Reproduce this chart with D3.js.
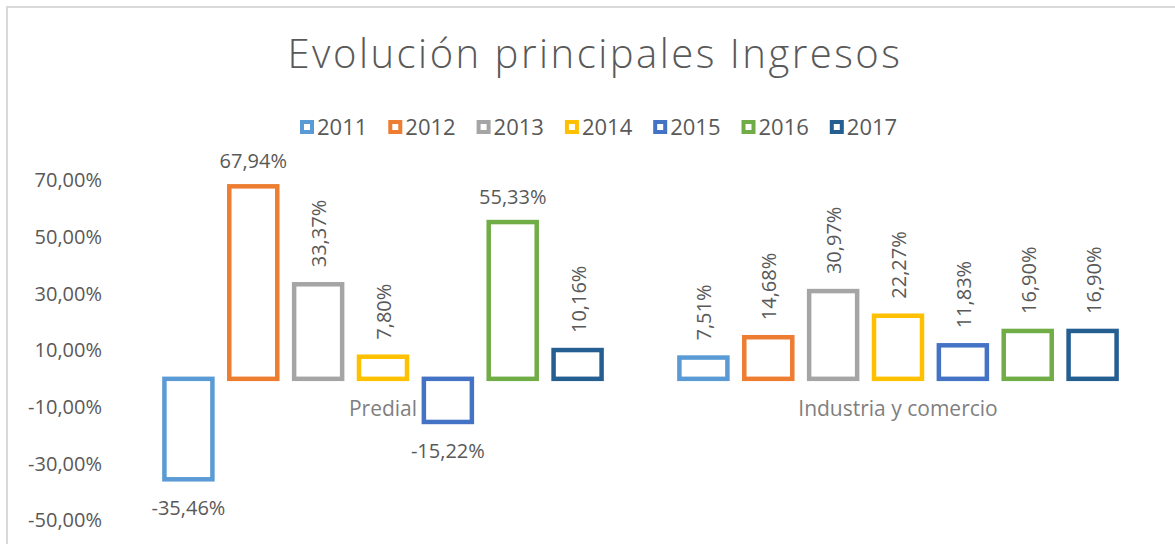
<!DOCTYPE html>
<html>
<head>
<meta charset="utf-8">
<script src="https://cdn.jsdelivr.net/npm/d3@7"></script>
<style>
  body { margin: 0; background: #fff; }
  text { font-family: "Open Sans", sans-serif; }
</style>
</head>
<body>
<svg width="1175" height="544"></svg>
<script>
var categories = ["Predial", "Industria y comercio"];
var years = ["2011", "2012", "2013", "2014", "2015", "2016", "2017"];
var predial = [-0.3546, 0.6794, 0.3337, 0.0780, -0.1522, 0.5533, 0.1016];
var industria = [0.0751, 0.1468, 0.3097, 0.2227, 0.1183, 0.1690, 0.1690];
var yTicks = [-0.5, -0.3, -0.1, 0.1, 0.3, 0.5, 0.7];

var values = {"Predial": predial, "Industria y comercio": industria};

var svg = d3.select("svg"),
  width = +svg.attr("width"),
  height = +svg.attr("height");

var locale = d3.formatLocale({decimal: ",", thousands: ".", grouping: [3], currency: ["", ""], minus: "-"});
var pct = locale.format(".2%");

var color = d3.scaleOrdinal()
  .domain(years)
  .range(["#5b9bd5", "#ed7d31", "#a5a5a5", "#ffc000", "#4472c4", "#70ad47", "#255e91"]);

// outer border of the chart area
svg.append("rect")
  .attr("x", 7).attr("y", 7)
  .attr("width", width).attr("height", height)
  .attr("fill", "none")
  .attr("stroke", "#d9d9d9")
  .attr("stroke-width", 2);

svg.append("text")
  .attr("x", 595)
  .attr("y", 68)
  .attr("text-anchor", "middle")
  .attr("fill", "#595959")
  .style("font-size", "40px")
  .style("font-weight", 300)
  .style("letter-spacing", "2.5px")
  .text("Evolución principales Ingresos");

// legend
var legend = svg.append("g")
  .selectAll("g")
  .data(years)
  .enter().append("g")
  .attr("transform", function(d, i) {
    return "translate(" + (302 + i * 88.3) + ",127)";
  });

legend.append("rect")
  .attr("x", 0).attr("y", -5)
  .attr("width", 10).attr("height", 10)
  .attr("fill", "#fff")
  .attr("stroke", function(d) { return color(d); })
  .attr("stroke-width", 4);

legend.append("text")
  .attr("x", 15)
  .attr("y", 8)
  .attr("fill", "#595959")
  .style("font-size", "22px")
  .text(function(d) { return d; });

var x0 = d3.scaleBand()
  .domain(categories)
  .range([125.5, 1155.5]);

var x1 = d3.scaleBand()
  .domain(years)
  .range([0, x0.bandwidth()])
  .paddingInner(0.26)
  .paddingOuter(0.6);

var y = d3.scaleLinear()
  .domain([-0.5, 0.7])
  .range([520.5, 180.5]);

var yAxis = svg.append("g")
  .attr("transform", "translate(108,0)")
  .call(d3.axisLeft(y).tickValues(yTicks).tickFormat(pct).tickSize(0).tickPadding(6));

yAxis.select(".domain").remove();
yAxis.selectAll("text")
  .attr("fill", "#595959")
  .style("font-family", "'Open Sans', sans-serif")
  .style("font-size", "20px");

var group = svg.append("g")
  .selectAll("g")
  .data(categories)
  .enter().append("g")
  .attr("transform", function(d) { return "translate(" + x0(d) + ",0)"; });

var bars = group.selectAll("g")
  .data(function(c) {
    return years.map(function(yr, i) { return {cat: c, year: yr, value: values[c][i]}; });
  })
  .enter().append("g");

bars.append("rect")
  .attr("x", function(d) { return x1(d.year); })
  .attr("y", function(d) { return y(Math.max(0, d.value)); })
  .attr("width", x1.bandwidth())
  .attr("height", function(d) { return Math.abs(y(d.value) - y(0)); })
  .attr("fill", "#fff")
  .attr("stroke", function(d) { return color(d.year); })
  .attr("stroke-width", 4.5);

// data labels: negatives and tall bars horizontal, the rest rotated
bars.append("text")
  .attr("fill", "#595959")
  .style("font-size", "20px")
  .attr("text-anchor", function(d) {
    return (d.value < 0 || d.value > 0.5) ? "middle" : "start";
  })
  .attr("dy", function(d) {
    return (d.value < 0 || d.value > 0.5) ? 0 : "0.35em";
  })
  .attr("transform", function(d) {
    var cx = x1(d.year) + x1.bandwidth() / 2;
    if (d.value < 0) return "translate(" + cx + "," + (y(d.value) + 36) + ")";
    if (d.value > 0.5) return "translate(" + cx + "," + (y(d.value) - 18) + ")";
    return "translate(" + (cx + 1) + "," + (y(d.value) - 17) + ") rotate(-90)";
  })
  .text(function(d) { return pct(d.value); });

group.append("text")
  .attr("x", x0.bandwidth() / 2)
  .attr("y", 416)
  .attr("text-anchor", "middle")
  .attr("fill", "#7f7f7f")
  .style("font-size", "21px")
  .text(function(d) { return d; });
</script>
</body>
</html>
